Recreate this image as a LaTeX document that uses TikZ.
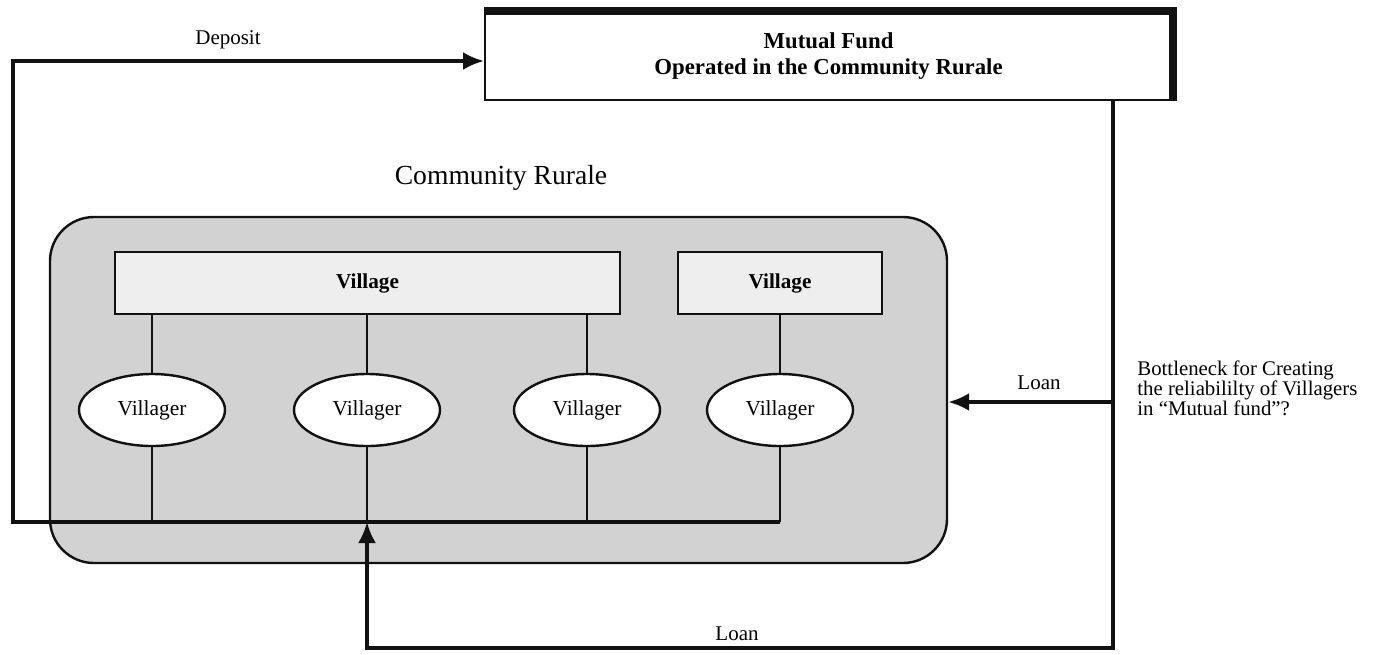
\documentclass[tikz,border=0pt]{standalone}
\usepackage{fontspec}
\setmainfont{Liberation Serif}
\usetikzlibrary{arrows.meta,shapes.geometric}
\definecolor{ink}{HTML}{111111}
\definecolor{grain}{HTML}{D2D2D2}
\definecolor{pale}{HTML}{EEEEEE}

\begin{document}
\begin{tikzpicture}[x=0.5pt,y=-0.5pt,font=\fontsize{10.5}{12}\selectfont,>=Latex,
  box/.style={draw=ink,fill=pale,line width=1.2pt,align=center,inner sep=0pt,minimum height=31pt,font=\bfseries\fontsize{10.6}{12}\selectfont},
  oval/.style={ellipse,draw=ink,fill=white,line width=1.2pt,inner sep=0pt,minimum width=73pt,minimum height=36pt,font=\fontsize{10.7}{12}\selectfont},
  conn/.style={draw=ink,line width=1.1pt},
  flow/.style={-{Latex[length=10.5pt,width=9pt]},draw=ink,line width=1.8pt},
  tag/.style={inner sep=1pt}]
\useasboundingbox (0,0) rectangle (1380,654);

\node[draw=ink,fill=white,line width=1pt,minimum width=343.5pt,minimum height=44pt,inner sep=0pt,align=center,
  font=\bfseries\fontsize{11.4}{13}\selectfont] (fund) at (828.5,56) {Mutual Fund\\Operated in the Community Rurale};
\draw[ink,line width=4pt] (fund.north west) -- (fund.north east) -- (fund.south east);

\node[tag,font=\fontsize{13.8}{16}\selectfont] (ruraltitle) at (501,178) {Community Rurale};
\node[draw=ink,fill=grain,line width=1.2pt,rounded corners=22pt,minimum width=448.5pt,minimum height=173pt] (rural) at (498.5,390) {};

\node[box,minimum width=252.5pt] (villA) at (367.5,283) {Village};
\node[box,minimum width=102pt] (villB) at (780,283) {Village};

\node[oval] (vil1) at (152,410) {Villager};
\node[oval] (vil2) at (367,410) {Villager};
\node[oval] (vil3) at (587,410) {Villager};
\node[oval] (vil4) at (780,410) {Villager};

\coordinate (busL) at (13,522);
\coordinate (busR) at (780,522);
\draw[conn] (vil1.north) -- (vil1 |- villA.south);
\draw[conn] (vil2.north) -- (vil2 |- villA.south);
\draw[conn] (vil3.north) -- (vil3 |- villA.south);
\draw[conn] (vil4.north) -- (vil4 |- villB.south);
\draw[conn] (vil1.south) -- (vil1 |- busL);
\draw[conn] (vil2.south) -- (vil2 |- busL);
\draw[conn] (vil3.south) -- (vil3 |- busL);
\draw[conn] (vil4.south) -- (busR);

\draw[flow] (busR) -- (busL) |- ([yshift=-2.5pt]fund.west);
\node[tag] (deposit) at (228,40) {Deposit};

\coordinate (split) at (1113,402);
\coordinate (corner) at (1113,648);
\draw[flow] (fund.south -| split) -- (corner) -| (vil2 |- busL);
\draw[flow] (split) -- (split -| rural.east);
\node[tag] (loanright) at (1039,383) {Loan};
\node[tag] (loanbottom) at (737,634) {Loan};

\node[tag,anchor=west,align=left,font=\fontsize{10.4}{10}\selectfont] (bottleneck) at (1135,388)
  {Bottleneck for Creating\\the reliabililty of Villagers\\in “Mutual fund”?};
\end{tikzpicture}
\end{document}
